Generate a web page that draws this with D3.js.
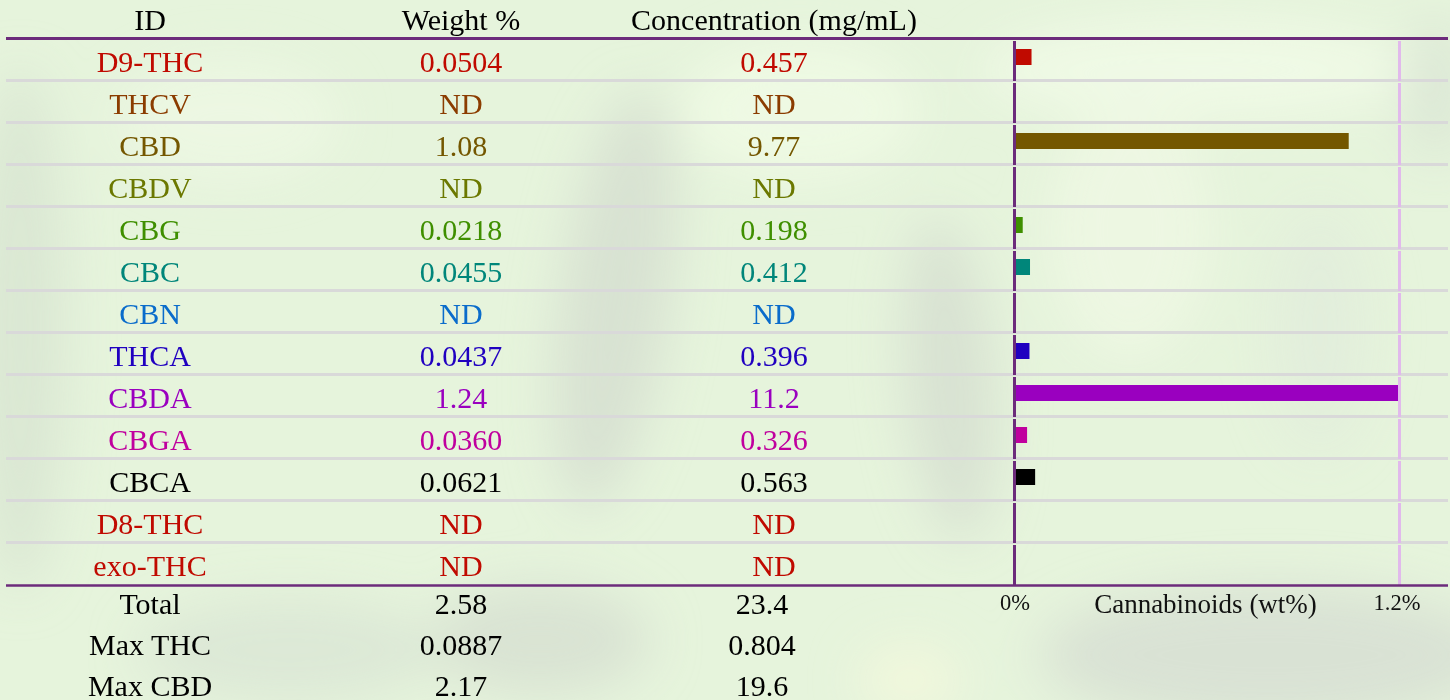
<!DOCTYPE html>
<html>
<head>
<meta charset="utf-8">
<script src="https://cdn.jsdelivr.net/npm/d3@7"></script>
<style>
  html, body { margin: 0; padding: 0; background: #e6f4dc; }
  svg text { font-family: "Liberation Serif", "Times New Roman", serif; }
</style>
</head>
<body>
<div class="canvas"></div>
<script>
// ---- data ----
const ids = ['D9-THC', 'THCV', 'CBD', 'CBDV', 'CBG', 'CBC', 'CBN', 'THCA', 'CBDA', 'CBGA', 'CBCA', 'D8-THC', 'exo-THC'];
const weights = [0.0504, null, 1.08, null, 0.0218, 0.0455, null, 0.0437, 1.24, 0.0360, 0.0621, null, null]; // null = ND
const concs = [0.457, null, 9.77, null, 0.198, 0.412, null, 0.396, 11.2, 0.326, 0.563, null, null];
const colors = ['#c00a00', '#8b3c00', '#745700', '#6b7800', '#3f8f00', '#00867a', '#0a6ccb', '#2000c0', '#9a00bf', '#c0009e', '#000000', '#c00a00', '#c00a00'];

const headers = ['ID', 'Weight %', 'Concentration (mg/mL)'];
const footLabels = ['Total', 'Max THC', 'Max CBD'];
const footWeights = [2.58, 0.0887, 2.17];
const footConcs = [23.4, 0.804, 19.6];
const axisTitle = 'Cannabinoids (wt%)';

const dims = { width: 1450, height: 700 };
const cols = { id: 150, weight: 461, conc: 774, footConc: 762 };
const fmt = d3.format('.3r');
const purple = '#6c2b7b';

const svg = d3.select('.canvas')
  .append('svg')
  .attr('width', dims.width)
  .attr('height', dims.height)
  .style('display', 'block');

// soft blurred plant photo in the back
const defs = svg.append('defs');
defs.append('filter').attr('id', 'blur')
  .attr('x', '-50%').attr('y', '-50%').attr('width', '200%').attr('height', '200%')
  .append('feGaussianBlur').attr('stdDeviation', 24);

svg.append('rect').attr('width', dims.width).attr('height', dims.height).attr('fill', '#e6f4dc');
const bg = svg.append('g').attr('filter', 'url(#blur)');
// cx, cy, rx, ry, angle, colour
const blobs = [
  [20, 330, 45, 260, 0, '#dae7d3'], [615, 300, 55, 210, 8, '#d8e2d2'], [950, 380, 45, 160, -5, '#d8e2d2'],
  [1270, 655, 230, 70, 0, '#d9e2d4'], [290, 650, 150, 50, 0, '#dce8d6'], [910, 680, 50, 35, 0, '#f1f7dc'],
  [1200, 70, 220, 50, 0, '#eff9e5'], [800, 110, 120, 70, 0, '#eef9e3'], [1435, 90, 30, 70, 0, '#dbe7d5'],
  [540, 640, 110, 55, 0, '#d9e3d3'], [1130, 230, 80, 130, 0, '#edf7e2'], [230, 120, 110, 60, 0, '#ecf7e2'],
  [1320, 330, 50, 120, 0, '#e2eedb']
];
bg.selectAll('ellipse').data(blobs).join('ellipse')
  .attr('transform', d => `translate(${d[0]},${d[1]}) rotate(${d[4]})`)
  .attr('rx', d => d[2]).attr('ry', d => d[3])
  .attr('fill', d => d[5]);

// scales
const y = d3.scaleBand().domain(ids).range([38.5, 584.5]);
const x = d3.scaleLinear().domain([0, d3.max(weights)]).range([1016, 1398]);

// header
svg.selectAll('.head').data(headers).join('text')
  .attr('class', 'head')
  .attr('x', (d, i) => [cols.id, cols.weight, cols.conc][i])
  .attr('y', 29.5)
  .attr('text-anchor', 'middle')
  .attr('font-size', 30)
  .attr('fill', '#000')
  .text(d => d);

// row separators
svg.selectAll('.sep').data(ids.slice(1)).join('line')
  .attr('class', 'sep')
  .attr('x1', 6).attr('x2', 1448)
  .attr('y1', d => y(d)).attr('y2', d => y(d))
  .attr('stroke', '#d9d9d9').attr('stroke-width', 3);

// vertical guide segments per row
const guides = [{ x: x(0) - 1.5, c: purple }, { x: x.range()[1] + 1.5, c: '#e1b9ec' }];
guides.forEach(g => {
  svg.append('g').selectAll('line').data(ids).join('line')
    .attr('x1', g.x).attr('x2', g.x)
    .attr('y1', d => y(d) + 2.5)
    .attr('y2', d => y(d) + y.bandwidth() + 0.5)
    .attr('stroke', g.c).attr('stroke-width', 3);
});

// top and bottom rules
svg.append('line').attr('x1', 6).attr('x2', 1448).attr('y1', 38.5).attr('y2', 38.5)
  .attr('stroke', purple).attr('stroke-width', 3);
svg.append('line').attr('x1', 6).attr('x2', 1448).attr('y1', 585.5).attr('y2', 585.5)
  .attr('stroke', purple).attr('stroke-width', 2.5);

// rows
const rows = svg.append('g').selectAll('g').data(ids).join('g')
  .attr('transform', d => `translate(0, ${y(d)})`);

rows.append('text').attr('x', cols.id).text(d => d);
rows.append('text').attr('x', cols.weight).text((d, i) => weights[i] == null ? 'ND' : fmt(weights[i]));
rows.append('text').attr('x', cols.conc).text((d, i) => concs[i] == null ? 'ND' : fmt(concs[i]));
rows.selectAll('text')
  .attr('y', 33)
  .attr('text-anchor', 'middle')
  .attr('font-size', 30)
  .attr('fill', function() { return colors[ids.indexOf(d3.select(this.parentNode).datum())]; });

// bars
svg.append('g').selectAll('rect')
  .data(ids.map((id, i) => ({ id, w: weights[i], c: colors[i] })).filter(d => d.w != null))
  .join('rect')
  .attr('x', x(0))
  .attr('y', d => y(d.id) + 10.5)
  .attr('width', d => x(d.w) - x(0))
  .attr('height', 16)
  .attr('fill', d => d.c);

// axis labels
const axis = d3.axisBottom(x)
  .tickValues([0, d3.max(weights)])
  .tickFormat(d => d === 0 ? '0%' : d3.format('.2')(d) + '%')
  .tickSize(0).tickPadding(0);
const axisG = svg.append('g').attr('transform', 'translate(-1.5, 610)').call(axis);
axisG.select('.domain').remove();
axisG.selectAll('text')
  .attr('dy', 0).attr('y', 0)
  .attr('font-family', '"Liberation Serif", serif')
  .attr('font-size', 22.5).attr('fill', '#111');

svg.append('text')
  .attr('x', (x.range()[0] + x.range()[1]) / 2 - 1.5)
  .attr('y', 612.5)
  .attr('text-anchor', 'middle')
  .attr('font-size', 27)
  .attr('fill', '#111')
  .text(axisTitle);

// footer summary
const foot = svg.append('g').selectAll('g').data(footLabels).join('g')
  .attr('transform', (d, i) => `translate(0, ${613.5 + i * 41})`);
foot.append('text').attr('x', cols.id).text(d => d);
foot.append('text').attr('x', cols.weight).text((d, i) => fmt(footWeights[i]));
foot.append('text').attr('x', cols.footConc).text((d, i) => fmt(footConcs[i]));
foot.selectAll('text')
  .attr('text-anchor', 'middle')
  .attr('font-size', 30)
  .attr('fill', '#000');
</script>
</body>
</html>
